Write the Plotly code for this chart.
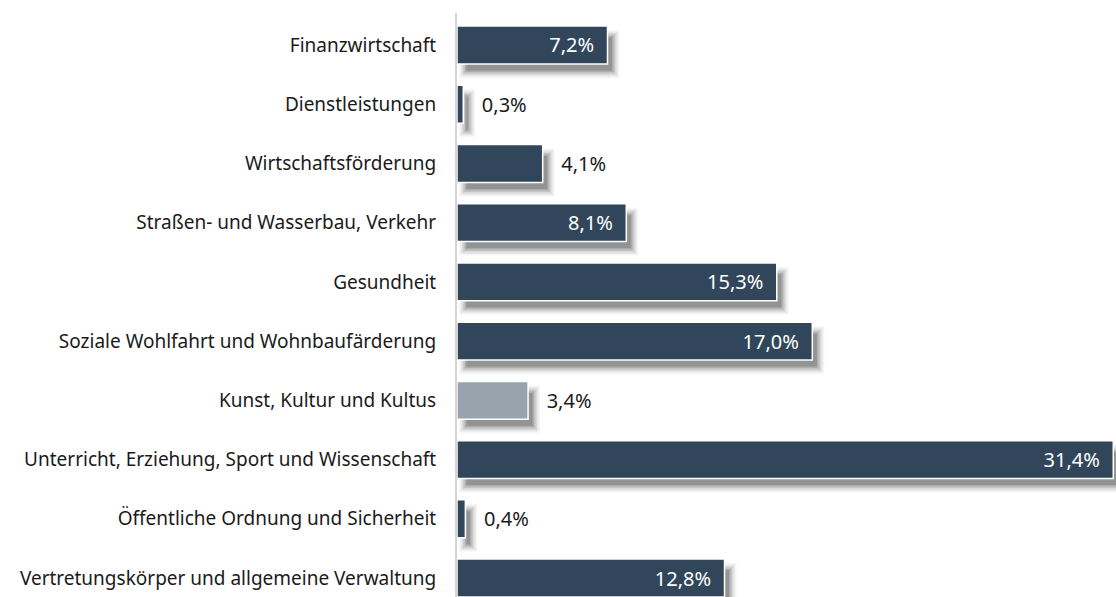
import plotly.graph_objects as go

categories = [
    "Finanzwirtschaft",
    "Dienstleistungen",
    "Wirtschaftsförderung",
    "Straßen- und Wasserbau, Verkehr",
    "Gesundheit",
    "Soziale Wohlfahrt und Wohnbaufärderung",
    "Kunst, Kultur und Kultus",
    "Unterricht, Erziehung, Sport und Wissenschaft",
    "Öffentliche Ordnung und Sicherheit",
    "Vertretungskörper und allgemeine Verwaltung",
]
values = [7.2, 0.3, 4.1, 8.1, 15.3, 17.0, 3.4, 31.4, 0.4, 12.8]
highlight = "Kunst, Kultur und Kultus"

DARK = "#31465a"
GREY = "#97a3ad"
FONT = "'Noto Sans', Lato, sans-serif"

W, H = 1116, 597
ML, MT = 457, 13
xmax = 31.53
y_top, y_bot = -0.54, 9.32
px_x = (W - ML) / xmax
px_y = (H - MT) / (y_bot - y_top)

bw = 0.64
colors = [GREY if c == highlight else DARK for c in categories]
inside = [v >= 5 for v in values]

fig = go.Figure()

# drop-shadow layers (simulated blur)
dx, dy = 7 / px_x, 9 / px_y
for e_px, alpha in [(5, 0.035), (3.5, 0.05), (2, 0.07), (0.5, 0.09), (-1, 0.12), (-2.5, 0.14)]:
    ex, ey = e_px / px_x, e_px / px_y
    fig.add_trace(go.Bar(
        y=categories,
        x=[v + 2 * ex for v in values],
        base=dx - ex,
        orientation="h",
        width=bw + 2 * ey,
        offset=-bw / 2 + dy - ey,
        marker=dict(color=f"rgba(0,0,0,{alpha})", line=dict(width=0)),
        hoverinfo="skip",
        showlegend=False,
    ))

fig.add_trace(go.Bar(
    y=categories,
    x=values,
    orientation="h",
    width=bw,
    offset=-bw / 2,
    marker=dict(color=colors, line=dict(color="white", width=1.5)),
    texttemplate=["%{x:.1f}%\u00a0\u00a0" if i else "\u00a0\u00a0\u00a0%{x:.1f}%"
                  for i in inside],
    textposition=["inside" if i else "outside" for i in inside],
    insidetextanchor="end",
    constraintext="none",
    textfont=dict(family=FONT, size=20,
                  color=["white" if i else "#1a1a1a" for i in inside]),
    cliponaxis=False,
    hoverinfo="skip",
    showlegend=False,
))

fig.update_layout(
    width=W, height=H,
    margin=dict(l=ML, r=0, t=MT, b=0),
    barmode="overlay",
    separators=",.",
    plot_bgcolor="white", paper_bgcolor="white",
    font=dict(family=FONT, size=19, color="#1a1a1a"),
    xaxis=dict(range=[0, xmax], visible=False, fixedrange=True),
    yaxis=dict(
        range=[y_bot, y_top],
        showline=True, linecolor="#d4d4d4", linewidth=2,
        showgrid=False, zeroline=False,
        ticks="outside", ticklen=15, tickcolor="rgba(0,0,0,0)",
        tickfont=dict(family=FONT, size=19, color="#1a1a1a"),
        fixedrange=True,
    ),
)

fig.write_html("out.html", config={"displayModeBar": False})
with open("out.html", encoding="utf-8") as f:
    html = f.read()
html = html.replace("<head>", "<head><style>html,body{margin:0;padding:0;overflow:hidden;}</style>", 1)
with open("out.html", "w", encoding="utf-8") as f:
    f.write(html)
